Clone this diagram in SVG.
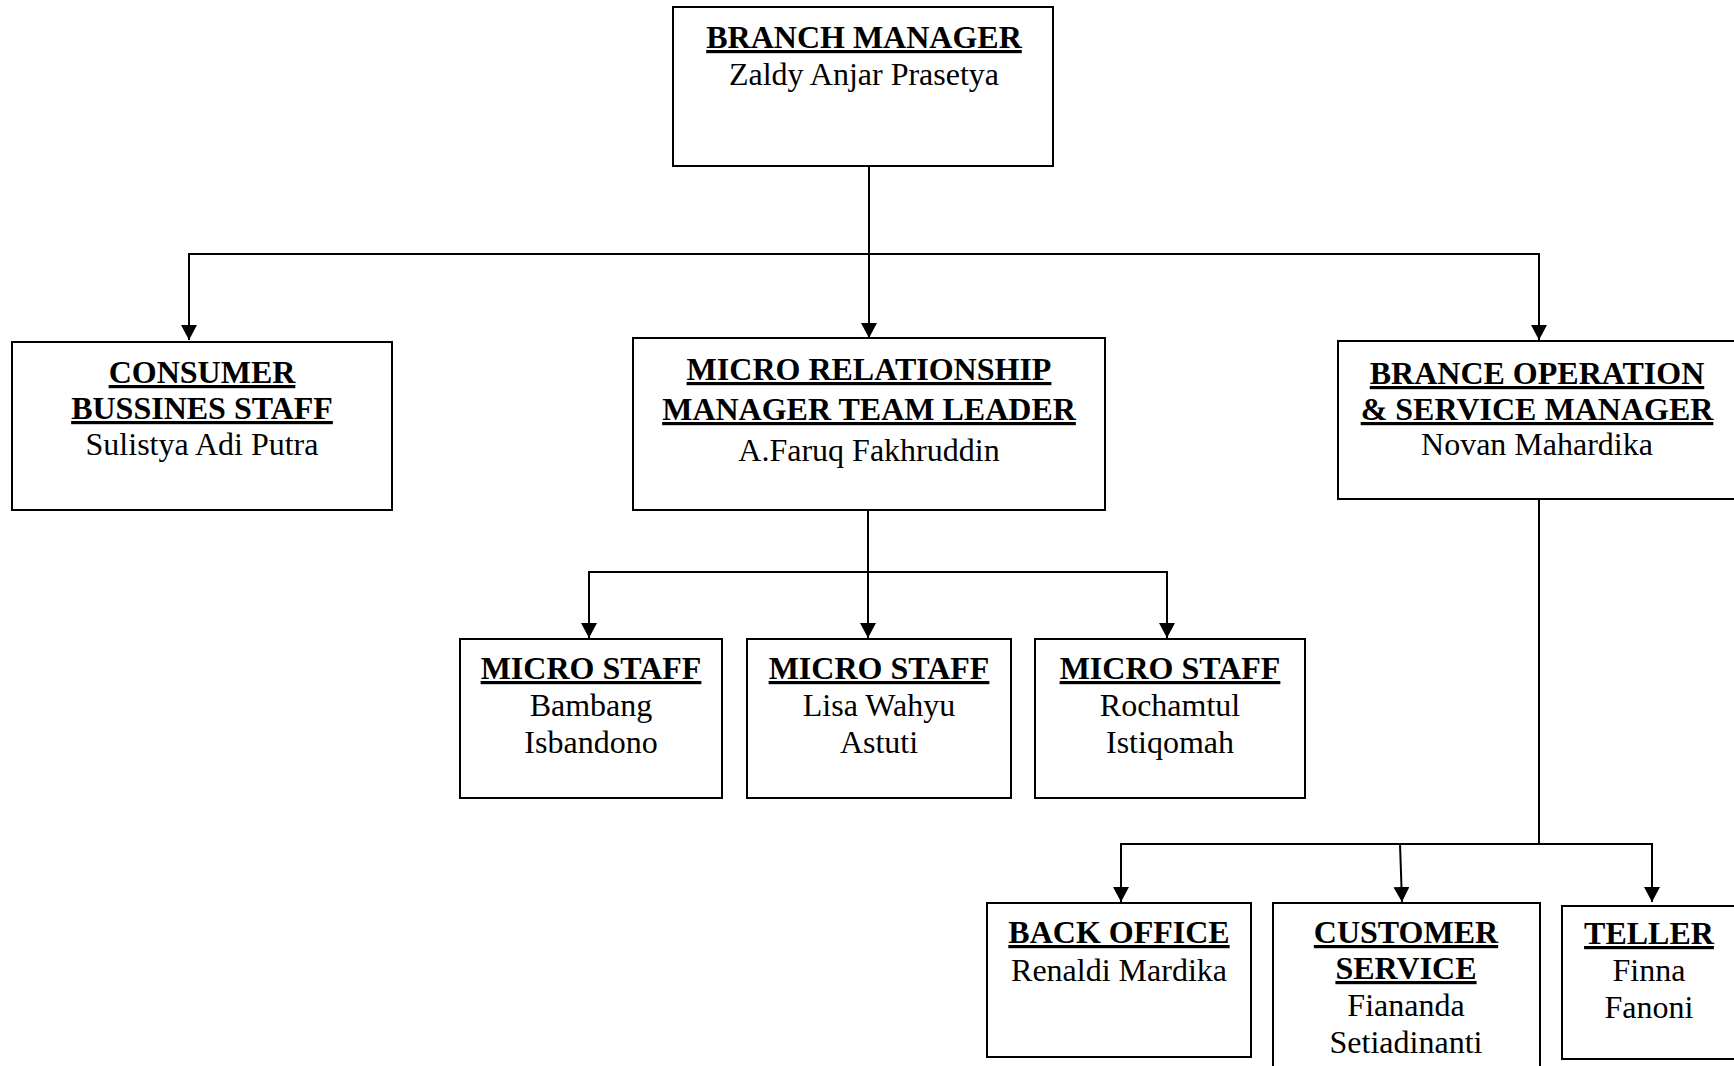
<svg xmlns="http://www.w3.org/2000/svg" width="1734" height="1066" viewBox="0 0 1734 1066">
  <style>
    .box { fill: #ffffff; stroke: #000000; stroke-width: 2; }
    .title { font-family: "Liberation Serif", "Times New Roman", serif; font-size: 32px; font-weight: bold; text-decoration: underline; fill: #000000; text-anchor: middle; }
    .name { font-family: "Liberation Serif", "Times New Roman", serif; font-size: 32px; fill: #000000; text-anchor: middle; }
    .conn { fill: none; stroke: #000000; stroke-width: 2; }
  </style>
  <defs>
    <marker id="arrow" markerUnits="userSpaceOnUse" markerWidth="16" markerHeight="16" refX="15" refY="8" orient="auto">
      <path d="M0,0 L15,8 L0,16 Z" fill="#000000"/>
    </marker>
  </defs>
  <rect width="1734" height="1066" fill="#ffffff"/>

  <g id="connectors">
    <line class="conn" x1="869" y1="166" x2="869" y2="338" marker-end="url(#arrow)"/>
    <polyline class="conn" points="189,300 189,254 1539,254 1539,300"/>
    <line class="conn" x1="189" y1="254" x2="189" y2="340" marker-end="url(#arrow)"/>
    <line class="conn" x1="1539" y1="254" x2="1539" y2="340" marker-end="url(#arrow)"/>

    <line class="conn" x1="868" y1="510" x2="868" y2="638" marker-end="url(#arrow)"/>
    <polyline class="conn" points="589,600 589,572 1167,572 1167,600"/>
    <line class="conn" x1="589" y1="572" x2="589" y2="638" marker-end="url(#arrow)"/>
    <line class="conn" x1="1167" y1="572" x2="1167" y2="638" marker-end="url(#arrow)"/>

    <line class="conn" x1="1539" y1="500" x2="1539" y2="844"/>
    <polyline class="conn" points="1121,870 1121,844 1652,844 1652,870"/>
    <line class="conn" x1="1121" y1="844" x2="1121" y2="902" marker-end="url(#arrow)"/>
    <line class="conn" x1="1400" y1="844" x2="1402" y2="902" marker-end="url(#arrow)"/>
    <line class="conn" x1="1652" y1="844" x2="1652" y2="902" marker-end="url(#arrow)"/>
  </g>

  <g id="branch-manager">
    <rect class="box" x="673" y="7" width="380" height="159"/>
    <text class="title" x="864" y="48">BRANCH MANAGER</text>
    <text class="name" x="864" y="85">Zaldy Anjar Prasetya</text>
  </g>

  <g id="consumer-bussines-staff">
    <rect class="box" x="12" y="342" width="380" height="168"/>
    <text class="title" x="202" y="383">CONSUMER</text>
    <text class="title" x="202" y="419">BUSSINES STAFF</text>
    <text class="name" x="202" y="455">Sulistya Adi Putra</text>
  </g>

  <g id="micro-relationship-manager">
    <rect class="box" x="633" y="338" width="472" height="172"/>
    <text class="title" x="869" y="380">MICRO RELATIONSHIP</text>
    <text class="title" x="869" y="420">MANAGER TEAM LEADER</text>
    <text class="name" x="869" y="461">A.Faruq Fakhruddin</text>
  </g>

  <g id="brance-operation-manager">
    <rect class="box" x="1338" y="341" width="410" height="158"/>
    <text class="title" x="1537" y="384">BRANCE OPERATION</text>
    <text class="title" x="1537" y="420">&amp; SERVICE MANAGER</text>
    <text class="name" x="1537" y="455">Novan Mahardika</text>
  </g>

  <g id="micro-staff-1">
    <rect class="box" x="460" y="639" width="262" height="159"/>
    <text class="title" x="591" y="679">MICRO STAFF</text>
    <text class="name" x="591" y="716">Bambang</text>
    <text class="name" x="591" y="753">Isbandono</text>
  </g>

  <g id="micro-staff-2">
    <rect class="box" x="747" y="639" width="264" height="159"/>
    <text class="title" x="879" y="679">MICRO STAFF</text>
    <text class="name" x="879" y="716">Lisa Wahyu</text>
    <text class="name" x="879" y="753">Astuti</text>
  </g>

  <g id="micro-staff-3">
    <rect class="box" x="1035" y="639" width="270" height="159"/>
    <text class="title" x="1170" y="679">MICRO STAFF</text>
    <text class="name" x="1170" y="716">Rochamtul</text>
    <text class="name" x="1170" y="753">Istiqomah</text>
  </g>

  <g id="back-office">
    <rect class="box" x="987" y="903" width="264" height="154"/>
    <text class="title" x="1119" y="943">BACK OFFICE</text>
    <text class="name" x="1119" y="981">Renaldi Mardika</text>
  </g>

  <g id="customer-service">
    <rect class="box" x="1273" y="903" width="267" height="180"/>
    <text class="title" x="1406" y="943">CUSTOMER</text>
    <text class="title" x="1406" y="979">SERVICE</text>
    <text class="name" x="1406" y="1016">Fiananda</text>
    <text class="name" x="1406" y="1053">Setiadinanti</text>
  </g>

  <g id="teller">
    <rect class="box" x="1562" y="906" width="190" height="153"/>
    <text class="title" x="1649" y="944">TELLER</text>
    <text class="name" x="1649" y="981">Finna</text>
    <text class="name" x="1649" y="1018">Fanoni</text>
  </g>
</svg>
